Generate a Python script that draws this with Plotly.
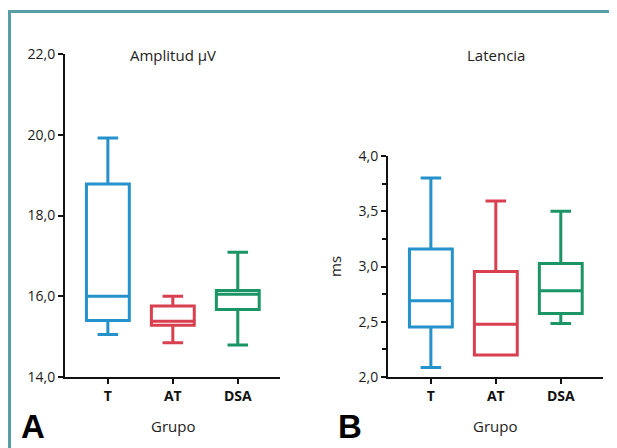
import plotly.graph_objects as go

W, H = 617, 448
OFF = 8  # page body margin compensation

groups = ["T", "AT", "DSA"]
colors = ["#2592cc", "#d83f4f", "#1b9466"]

# Panel A: Amplitud (µV)
amp_low = [15.05, 14.85, 14.79]
amp_q1 = [15.40, 15.28, 15.67]
amp_med = [16.00, 15.38, 16.05]
amp_q3 = [18.78, 15.76, 16.14]
amp_high = [19.92, 16.00, 17.09]

# Panel B: Latencia (ms)
lat_low = [2.085, 2.20, 2.484]
lat_q1 = [2.453, 2.20, 2.575]
lat_med = [2.689, 2.478, 2.78]
lat_q3 = [3.158, 2.955, 3.028]
lat_high = [3.80, 3.593, 3.50]

amp_ticks = [14, 16, 18, 20, 22]
lat_ticks = [2.0, 2.5, 3.0, 3.5, 4.0]


def px(x):
    return (x - OFF) / W


def py(y):
    return 1 - (y - OFF) / H


fig = go.Figure()

for i, g in enumerate(groups):
    fig.add_trace(go.Box(
        x=[g], q1=[amp_q1[i]], median=[amp_med[i]], q3=[amp_q3[i]],
        lowerfence=[amp_low[i]], upperfence=[amp_high[i]],
        xaxis="x", yaxis="y", width=0.66, whiskerwidth=0.48,
        line=dict(color=colors[i], width=3), fillcolor="rgba(255,255,255,0)",
        boxpoints=False, showlegend=False, hoverinfo="skip"))
    fig.add_trace(go.Box(
        x=[g], q1=[lat_q1[i]], median=[lat_med[i]], q3=[lat_q3[i]],
        lowerfence=[lat_low[i]], upperfence=[lat_high[i]],
        xaxis="x2", yaxis="y2", width=0.66, whiskerwidth=0.48,
        line=dict(color=colors[i], width=3), fillcolor="rgba(255,255,255,0)",
        boxpoints=False, showlegend=False, hoverinfo="skip"))

font_fam = "Open Sans, Noto Sans, sans-serif"
axis_common = dict(showgrid=False, zeroline=False, showline=True, linecolor="#111",
                   linewidth=2, ticks="outside", ticklen=5, tickwidth=2, tickcolor="#111",
                   automargin=False,
                   tickfont=dict(family=font_fam, size=14, color="#1a1a1a"))

xcat = dict(type="category", categoryorder="array", categoryarray=groups,
            tickvals=groups, ticktext=["<b>%s</b>" % g for g in groups],
            range=[-0.66, 2.65])

fig.update_layout(
    width=W, height=H, margin=dict(l=0, r=0, t=0, b=0, autoexpand=False),
    paper_bgcolor="white", plot_bgcolor="white",
    separators=",.", boxmode="overlay",
    xaxis=dict(domain=[px(65), px(280)], anchor="y", **xcat, **axis_common),
    yaxis=dict(domain=[py(377), py(54)], anchor="x", range=[14, 22],
               tickvals=amp_ticks, tickformat=".1f", **axis_common),
    xaxis2=dict(domain=[px(388), px(603)], anchor="y2", **xcat, **axis_common),
    yaxis2=dict(domain=[py(377), py(156)], anchor="x2", range=[2, 4],
                tickvals=lat_ticks, tickformat=".1f",
                minor=dict(dtick=0.25, ticks="outside", ticklen=4, tickwidth=2, tickcolor="#111"),
                **axis_common),
)

fig.update_xaxes(tickfont=dict(size=14, color="#111"))

ann_font = dict(family=font_fam, size=15, color="#222")
annotations = [
    dict(text="Amplitud µV", x=px(173), y=py(55)),
    dict(text="Latencia", x=px(496), y=py(55)),
    dict(text="Grupo", x=px(173), y=py(426)),
    dict(text="Grupo", x=px(495), y=py(426)),
]
for a in annotations:
    fig.add_annotation(xref="paper", yref="paper", showarrow=False,
                       xanchor="center", yanchor="middle", font=ann_font, **a)
fig.add_annotation(text="ms", xref="paper", yref="paper", x=px(335), y=py(267),
                   showarrow=False, textangle=-90, font=ann_font,
                   xanchor="center", yanchor="middle")
for lab, xx in [("A", 33), ("B", 350)]:
    fig.add_annotation(text="<b>%s</b>" % lab, xref="paper", yref="paper",
                       x=px(xx), y=py(426), showarrow=False,
                       font=dict(family="Liberation Sans, Arial, sans-serif", size=33, color="#000"),
                       xanchor="center", yanchor="middle")

# teal frame
fig.add_shape(type="rect", xref="paper", yref="paper",
              x0=px(9.5), x1=px(640), y0=py(470), y1=py(11.5),
              line=dict(color="#5a9ea5", width=3), fillcolor="rgba(0,0,0,0)", layer="below")

fig.write_html("out.html")
